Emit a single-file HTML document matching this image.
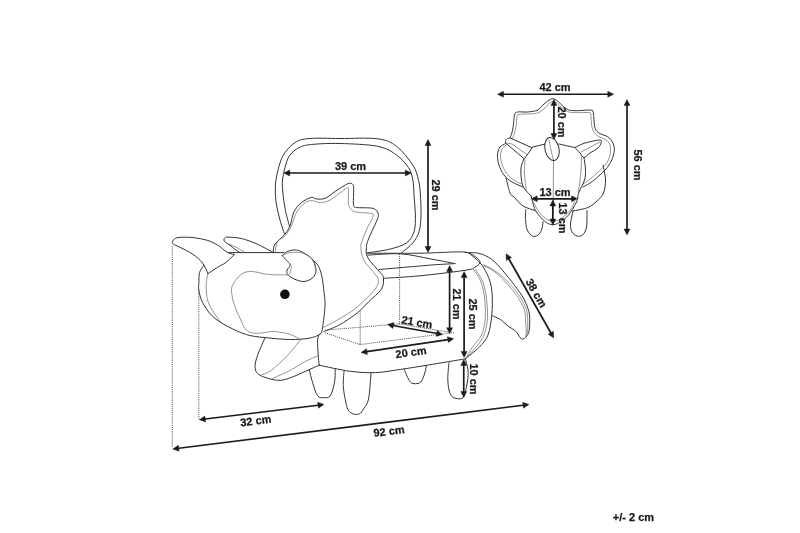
<!DOCTYPE html>
<html><head><meta charset="utf-8">
<style>
html,body{margin:0;padding:0;background:#fff;width:800px;height:533px;overflow:hidden}
svg{display:block;will-change:transform}
.t{font-family:"Liberation Sans",sans-serif;font-weight:bold;font-size:11px;fill:#1a1a1a;stroke:#1a1a1a;stroke-width:0.25}
.d{stroke:#1a1a1a;stroke-width:1.7;fill:none}
.ah{fill:#1a1a1a;stroke:#1a1a1a;stroke-width:0.4;stroke-linejoin:miter}
.o{stroke:#333;stroke-width:1.0;fill:none;stroke-linejoin:round;stroke-linecap:round}
.l{stroke:#777;stroke-width:0.8;fill:none;stroke-linejoin:round;stroke-linecap:round}
.dot{stroke:#444;stroke-width:0.9;fill:none;stroke-dasharray:1.1 1}
</style></head><body>
<svg width="800" height="533" viewBox="0 0 800 533">
<defs>
<marker id="ah" viewBox="0 0 10 10" refX="9" refY="5" markerWidth="4" markerHeight="4" orient="auto-start-reverse" markerUnits="strokeWidth">
<path d="M0,0 L10,5 L0,10 L2.5,5 z" fill="#1a1a1a"/>
</marker>
</defs>
<g id="drawing">
<path class="o" d="M284.5,234.0 C283.8,231.7 281.3,224.8 280.0,220.0 C278.7,215.2 277.3,210.0 276.5,205.0 C275.7,200.0 275.3,194.5 275.3,190.0 C275.3,185.5 275.5,182.5 276.3,178.0 C277.1,173.5 278.6,167.2 280.0,163.0 C281.4,158.8 282.5,156.0 285.0,152.6 C287.5,149.2 291.0,144.9 295.0,142.6 C299.0,140.2 301.5,139.2 309.0,138.5 C316.5,137.8 328.6,138.4 340.0,138.5 C351.4,138.6 368.3,137.5 377.7,138.8 C387.1,140.1 390.6,141.9 396.5,146.3 C402.4,150.7 409.2,159.5 412.9,165.2 C416.6,170.9 417.2,175.3 418.5,180.3 C419.8,185.3 420.0,189.2 420.4,195.0 C420.8,200.8 421.2,208.9 421.0,215.0 C420.8,221.1 420.5,226.9 419.1,231.5 C417.8,236.1 415.8,239.2 412.9,242.8 C410.0,246.4 403.5,251.1 401.6,252.8"/>
<path class="o" d="M289.5,226.4 C288.8,223.5 286.2,214.9 285.1,208.8 C284.0,202.7 283.0,195.1 282.6,190.0 C282.2,184.9 282.2,182.3 282.8,178.0 C283.4,173.7 284.8,167.8 286.0,164.0 C287.2,160.2 287.8,157.7 290.0,155.0 C292.2,152.3 295.4,149.3 299.0,147.6 C302.6,145.8 304.7,145.2 311.5,144.5 C318.3,143.8 329.0,143.2 340.0,143.5 C351.0,143.8 368.3,144.4 377.7,146.3 C387.1,148.2 391.4,151.4 396.5,155.0 C401.6,158.6 405.8,163.5 408.5,167.7 C411.2,171.9 412.0,175.4 412.9,180.3 C413.8,185.2 413.7,191.2 414.1,197.0 C414.5,202.8 415.4,209.2 415.4,215.0 C415.4,220.8 415.6,226.9 414.1,231.5 C412.6,236.1 410.6,239.9 406.6,242.8 C402.6,245.7 396.8,247.3 390.3,249.0 C383.8,250.7 371.4,252.2 367.6,252.8"/>
<path class="o" d="M273.2,252.2 C273.5,250.8 273.1,247.0 275.1,244.0 C277.1,241.0 282.6,237.1 285.1,234.0 C287.6,230.9 288.7,228.9 290.2,225.2 C291.7,221.5 292.0,215.8 293.9,212.0 C295.8,208.2 298.6,205.0 301.5,202.6 C304.4,200.2 308.8,198.0 311.3,197.4 C313.8,196.8 314.0,198.8 316.3,198.9 C318.6,199.1 322.0,199.6 325.1,198.3 C328.2,197.1 331.9,193.6 335.2,191.4 C338.5,189.2 342.7,186.5 345.2,185.1 C347.7,183.7 348.9,183.1 350.3,183.2 C351.7,183.3 352.8,183.7 353.4,185.7 C353.9,187.7 353.6,191.7 353.6,195.0 C353.6,198.3 353.0,203.2 353.5,205.2 C354.0,207.3 353.4,207.0 356.5,207.5 C359.6,208.0 368.8,207.5 372.2,208.2 C375.8,209.0 376.5,210.6 377.5,212.0 C378.5,213.4 378.5,214.8 378.2,216.5 C378.0,218.2 377.6,218.8 376.0,222.5 C374.4,226.2 370.1,234.8 368.5,239.0 C366.9,243.2 366.5,244.5 366.4,247.6 C366.3,250.7 365.4,253.4 367.7,257.6 C370.0,261.8 377.7,269.4 380.3,272.7 C382.9,276.0 383.2,275.0 383.4,277.7 C383.6,280.4 384.0,284.9 381.5,289.0 C379.0,293.1 372.3,298.1 368.3,302.0 C364.3,305.9 362.6,308.7 357.7,312.6 C352.8,316.5 344.4,322.1 338.8,325.2 C333.2,328.3 326.3,330.4 323.8,331.5"/>
<path class="l" d="M275.1,252.2 C275.5,250.4 275.8,244.3 277.6,241.5 C279.4,238.7 283.4,238.0 285.8,235.2 C288.2,232.4 290.2,228.3 292.0,224.5 C293.8,220.7 294.2,216.2 296.4,212.6 C298.6,208.9 302.5,204.6 305.2,202.6 C307.9,200.6 310.3,200.7 312.8,200.7 C315.3,200.7 317.4,202.8 320.3,202.6 C323.2,202.4 326.0,202.2 330.4,199.8 C334.8,197.4 343.5,189.9 346.5,188.2 C349.5,186.5 348.1,187.5 348.4,189.5 C348.7,191.5 348.2,197.2 348.3,200.0 C348.4,202.8 348.0,204.1 349.0,206.0 C350.0,207.9 350.5,210.3 354.2,211.6 C358.0,212.8 368.4,212.8 371.5,213.5 C374.6,214.2 373.0,214.6 373.0,215.8 C373.0,216.9 372.5,218.1 371.5,220.2 C370.5,222.4 368.5,225.2 367.0,228.5 C365.5,231.8 363.5,236.8 362.5,240.0 C361.5,243.2 360.6,244.2 360.8,247.6 C361.0,250.9 361.7,255.9 363.9,260.1 C366.1,264.3 371.6,269.4 374.0,272.7 C376.4,276.0 378.2,277.5 378.4,280.2 C378.6,282.9 377.8,285.4 375.2,289.0 C372.6,292.6 366.7,298.3 362.7,302.0 C358.7,305.7 356.4,307.9 351.4,311.4 C346.4,314.8 337.4,320.0 332.6,322.7 C327.8,325.4 324.2,326.9 322.5,327.7"/>
<path class="o" d="M229.0,252.6 L283.9,252.6"/>
<path class="o" d="M234.4,254.4 C233.6,254.2 231.4,254.1 229.7,253.4 C228.0,252.7 226.0,251.4 224.0,250.0 C222.0,248.6 220.3,246.6 217.5,245.0 C214.7,243.4 211.3,241.5 207.2,240.3 C203.1,239.1 197.8,238.1 193.1,237.6 C188.4,237.1 182.2,237.1 179.0,237.4 C175.8,237.7 175.1,238.7 174.0,239.5 C172.9,240.3 172.2,241.7 172.2,242.5 C172.2,243.3 172.9,243.9 174.0,244.6 C175.1,245.3 175.8,245.2 179.0,246.8 C182.2,248.4 189.2,251.7 193.1,254.4 C197.0,257.1 200.0,259.8 202.5,263.0 C205.0,266.2 207.2,271.8 208.1,273.6"/>
<path class="o" d="M208.1,273.6 C209.7,272.6 214.5,269.2 217.5,267.3 C220.5,265.4 223.1,264.6 225.9,262.5 C228.7,260.4 233.0,255.8 234.4,254.4"/>
<path class="o" d="M240.0,252.6 C239.1,252.0 236.2,250.2 234.5,249.0 C232.8,247.8 231.4,246.2 229.9,245.1 C228.4,244.0 226.5,243.2 225.5,242.3 C224.5,241.5 224.0,240.8 223.9,240.0 C223.8,239.2 224.3,238.3 225.0,237.8 C225.7,237.3 225.3,237.0 228.0,237.1 C230.7,237.2 236.8,237.5 241.2,238.5 C245.6,239.5 250.6,241.4 254.4,242.9 C258.2,244.4 260.9,245.9 264.0,247.5 C267.1,249.1 271.2,251.5 272.7,252.3"/>
<path class="l" d="M229.9,244.2 C231.1,244.8 234.7,246.5 237.0,247.8 C239.3,249.1 242.8,251.1 243.9,251.8"/>
<path class="o" d="M282.7,255.1 C283.5,254.3 285.4,252.2 287.7,251.3 C290.0,250.5 293.6,249.6 296.5,250.0 C299.4,250.4 302.6,252.1 305.3,253.8 C308.0,255.5 311.0,257.4 312.8,260.1 C314.6,262.8 316.0,267.3 316.0,270.2 C316.0,273.1 314.8,275.8 312.8,277.7 C310.8,279.6 307.1,281.3 304.0,281.5 C300.9,281.7 296.7,280.1 294.0,278.9 C291.3,277.7 288.8,275.9 287.7,274.5 C286.6,273.1 286.7,271.8 287.1,270.2 C287.5,268.6 290.1,266.6 290.2,265.1 C290.3,263.6 288.9,262.9 287.7,261.4 C286.4,259.9 283.5,257.4 282.7,256.3 C281.9,255.2 281.9,255.9 282.7,255.1 Z"/>
<path class="l" d="M283.9,255.1 C284.8,254.7 286.3,253.0 289.0,252.6 C291.7,252.2 297.0,252.0 300.3,252.6 C303.6,253.2 306.7,254.8 309.0,256.3 C311.3,257.8 313.1,259.3 314.1,261.4 C315.2,263.5 315.1,267.6 315.3,268.9"/>
<path class="l" d="M291.5,266.4 C291.3,267.4 290.8,271.2 290.2,272.7 C289.6,274.2 288.1,274.8 287.7,275.2"/>
<path class="o" d="M312.8,260.1 C313.6,260.9 316.3,262.6 317.8,265.1 C319.3,267.6 320.6,270.6 321.6,275.2 C322.7,279.8 323.5,287.6 324.1,292.8 C324.7,298.0 325.3,300.5 325.0,306.3 C324.7,312.1 323.3,323.1 322.5,327.7 C321.7,332.3 322.2,332.2 320.0,334.0 C317.8,335.8 314.1,337.3 309.1,338.2 C304.2,339.1 297.6,339.6 290.3,339.5 C283.0,339.4 272.4,338.4 265.1,337.6 C257.8,336.8 252.7,336.5 246.5,334.6 C240.3,332.7 233.3,329.4 227.7,326.4 C222.0,323.4 216.8,320.4 212.6,316.4 C208.4,312.4 204.9,307.0 202.6,302.6 C200.3,298.2 199.4,293.3 198.8,290.0 C198.2,286.7 198.8,285.7 198.9,282.8 C199.0,279.9 198.7,275.6 199.5,272.7 C200.3,269.8 203.2,266.4 203.9,265.2"/>
<path class="l" d="M207.7,273.3 C207.5,274.9 206.6,280.0 206.4,282.8 C206.2,285.6 205.9,286.5 206.3,290.0 C206.7,293.5 206.5,298.6 208.8,303.8 C211.1,309.0 217.0,317.6 220.2,321.4 C223.3,325.2 226.4,325.6 227.7,326.4"/>
<path class="l" d="M287.7,274.8 C284.6,274.8 274.8,275.1 268.8,274.5 C262.8,273.9 256.2,271.6 251.7,271.5 C247.2,271.4 244.5,272.1 241.6,274.0 C238.7,275.9 235.7,280.1 234.0,282.8 C232.3,285.5 231.5,286.5 231.5,290.0 C231.5,293.5 232.5,299.0 234.0,303.8 C235.5,308.6 238.2,314.5 240.3,318.9 C242.4,323.3 243.6,327.6 246.3,330.0 C249.0,332.4 252.4,333.1 256.6,333.3 C260.8,333.6 268.2,331.7 271.7,331.5 C275.2,331.3 274.6,331.4 277.7,331.9 C280.8,332.4 286.5,333.1 290.3,334.4 C294.1,335.7 298.6,338.6 300.3,339.5"/>
<path class="o" d="M265.1,337.6 C263.9,340.5 259.3,350.2 257.6,355.2 C255.9,360.2 254.7,364.3 255.1,367.7 C255.5,371.1 256.3,373.2 260.1,375.3 C263.9,377.4 272.7,379.9 277.7,380.3 C282.7,380.7 285.8,379.3 290.3,377.8 C294.9,376.3 300.2,373.6 305.0,371.5 C309.8,369.4 316.8,366.2 319.1,365.2"/>
<path class="o" d="M319.1,365.2 C318.9,362.7 318.1,354.6 317.9,350.0 C317.7,345.4 317.3,340.5 317.9,337.6 C318.5,334.7 321.1,333.4 321.7,332.6"/>
<path class="l" d="M300.3,340.1 C298.2,342.6 292.5,350.2 287.7,355.2 C282.9,360.2 276.0,366.9 271.4,370.3 C266.8,373.7 262.0,374.5 260.1,375.3"/>
<path class="l" d="M317.9,355.8 C315.8,356.8 309.9,359.1 305.3,361.5 C300.7,363.9 295.7,367.5 290.3,370.3 C284.9,373.1 275.6,377.0 272.7,378.4"/>
<path class="o" d="M367.0,253.2 C375.8,253.2 404.9,253.4 420.0,253.2 C435.1,253.0 449.6,251.9 457.7,251.9 C465.8,251.9 465.6,252.0 468.8,253.0 C472.1,254.0 475.3,256.5 477.2,258.1 C479.1,259.7 480.5,261.2 480.0,262.8 C479.5,264.4 476.9,266.2 474.4,267.5 C471.9,268.8 474.1,268.9 465.0,270.3 C455.9,271.7 433.5,274.5 420.0,275.8 C406.5,277.1 390.0,277.9 384.0,278.3"/>
<path class="o" d="M367.7,255.1 C373.1,254.9 389.9,253.2 400.4,253.8 C410.9,254.4 421.4,257.3 430.5,258.9 C439.6,260.5 450.9,262.8 455.0,263.6"/>
<path class="o" d="M379.0,269.5 C387.6,268.8 417.8,266.1 430.5,265.1 C443.2,264.1 450.9,263.9 455.0,263.6"/>
<path class="o" d="M468.8,253.0 C470.7,254.6 477.0,259.4 480.0,262.8 C483.0,266.2 484.9,269.8 486.6,273.1 C488.3,276.4 489.4,278.9 490.3,282.5 C491.2,286.1 491.9,289.6 492.2,295.0 C492.4,300.4 492.5,308.1 491.8,314.8 C491.1,321.5 490.1,329.6 488.0,335.0 C485.9,340.4 483.2,343.0 479.4,347.0 C475.6,351.0 467.7,356.8 465.4,358.8"/>
<path class="l" d="M473.4,269.4 C474.5,271.1 478.2,275.4 480.0,279.7 C481.8,284.0 483.3,288.7 484.2,295.0 C485.1,301.3 485.8,311.0 485.3,317.7 C484.9,324.4 483.6,330.1 481.5,335.0 C479.4,339.9 475.2,343.0 472.5,347.0 C469.8,351.0 466.6,356.8 465.4,358.8"/>
<path class="l" d="M475.3,269.4 C476.4,271.1 480.1,275.4 481.9,279.7 C483.7,284.0 485.1,288.7 486.0,295.0 C486.9,301.3 487.8,311.0 487.5,317.7 C487.2,324.4 485.9,330.1 484.0,335.0 C482.1,339.9 479.1,343.0 476.0,347.0 C472.9,351.0 467.2,356.8 465.4,358.8"/>
<path class="o" d="M465.0,252.5 C467.4,252.7 474.7,252.3 479.1,253.4 C483.5,254.5 487.4,256.3 491.3,259.1 C495.2,261.9 498.8,266.1 502.5,270.3 C506.2,274.5 511.0,280.8 513.8,284.4 C516.6,288.0 517.7,289.4 519.5,292.0 C521.3,294.6 523.0,296.9 524.5,300.0 C526.0,303.1 527.8,307.1 528.7,310.6 C529.6,314.1 529.7,317.6 529.7,321.0 C529.8,324.4 529.6,328.6 529.0,331.3 C528.4,334.0 527.0,335.7 526.0,337.0 C525.0,338.3 524.0,338.9 523.0,339.0 C522.0,339.1 521.2,338.8 520.0,337.5 C518.8,336.2 517.8,333.2 515.8,331.3 C513.8,329.4 510.2,327.7 508.0,326.0 C505.8,324.3 503.8,322.2 502.4,321.0 C500.9,319.8 500.9,319.8 499.3,318.9 C497.7,318.0 493.7,316.3 492.6,315.8"/>
<path class="l" d="M482.8,264.7 C483.9,265.2 486.4,265.8 489.4,267.5 C492.4,269.2 496.9,271.9 500.6,275.0 C504.4,278.1 509.2,283.5 511.9,286.3 C514.5,289.1 514.8,289.7 516.5,292.0 C518.2,294.3 520.3,296.9 522.0,300.0 C523.7,303.1 525.6,307.1 526.6,310.6 C527.6,314.1 527.6,317.6 527.7,321.0 C527.9,324.4 527.8,328.8 527.5,331.3 C527.2,333.8 526.2,335.2 526.0,336.0"/>
<path class="l" d="M483.8,266.1 C484.9,266.6 487.7,267.2 490.3,268.9 C492.9,270.5 496.4,272.9 499.7,276.0 C503.0,279.1 507.6,284.5 510.0,287.2 C512.4,289.9 512.4,289.9 514.0,292.0 C515.6,294.1 517.7,296.9 519.5,300.0 C521.3,303.1 523.6,307.1 524.6,310.6 C525.6,314.1 525.3,317.6 525.6,321.0 C525.9,324.4 526.1,328.8 526.2,331.3 C526.3,333.8 526.0,335.2 526.0,336.0"/>
<path class="o" d="M319.1,365.2 C324.3,366.2 340.9,370.1 350.3,371.3 C359.7,372.5 367.0,372.9 375.4,372.6 C383.8,372.3 391.8,370.6 400.5,369.4 C409.2,368.1 416.9,366.9 427.7,365.1 C438.5,363.3 459.1,359.9 465.4,358.8"/>
<path class="o" d="M309.4,370.1 C309.9,372.2 311.2,378.3 312.6,382.6 C314.0,386.9 315.7,393.3 317.6,395.8 C319.5,398.3 321.8,397.7 323.9,397.7 C326.0,397.7 328.4,398.3 330.2,395.8 C332.0,393.3 333.7,387.0 334.5,382.6 C335.3,378.2 335.1,371.6 335.2,369.4"/>
<path class="o" d="M344.0,371.3 C343.9,373.8 343.0,381.1 343.3,386.4 C343.6,391.7 345.1,399.0 346.0,403.0 C346.9,407.0 347.2,408.7 348.5,410.5 C349.8,412.3 351.7,413.4 353.5,414.0 C355.3,414.6 357.8,414.6 359.5,413.8 C361.2,413.0 362.0,411.5 363.5,409.0 C365.0,406.5 367.2,405.0 368.5,399.0 C369.8,393.0 370.6,377.5 371.0,373.2"/>
<path class="o" d="M404.4,369.5 C404.8,370.6 406.1,374.0 407.0,376.0 C407.9,378.0 409.0,380.2 410.0,381.5 C411.0,382.8 411.7,383.2 413.0,383.5 C414.3,383.8 416.6,383.9 418.0,383.5 C419.4,383.1 420.4,382.6 421.5,381.0 C422.6,379.4 423.7,376.5 424.5,374.0 C425.3,371.5 426.1,367.2 426.4,365.8"/>
<path class="o" d="M449.0,362.6 C448.8,365.1 447.8,373.1 447.8,377.7 C447.8,382.3 448.3,386.9 449.0,390.0 C449.7,393.1 450.8,395.1 452.0,396.5 C453.2,397.9 454.3,398.1 456.0,398.4 C457.7,398.7 460.5,399.3 462.0,398.4 C463.5,397.5 464.1,395.9 465.0,393.0 C465.9,390.1 467.0,384.8 467.5,381.0 C468.0,377.2 468.4,373.7 468.0,370.0 C467.6,366.3 465.8,360.7 465.4,358.8"/>
<path class="dot" d="M172.3,246.3 L172.3,447.5"/>
<path class="dot" d="M198.8,290.0 L198.8,419.0"/>
<path class="dot" d="M325.0,330.2 L399.1,323.9"/>
<path class="dot" d="M399.1,323.9 L455.0,333.2"/>
<path class="dot" d="M325.0,332.7 L360.2,344.6"/>
<path class="dot" d="M360.2,344.6 L450.0,333.0"/>
<path class="dot" d="M360.2,311.4 L360.2,344.6"/>
<path class="dot" d="M399.6,253.8 L399.6,323.9"/>
<path class="o" d="M523.0,187.0 C521.2,186.2 515.2,184.0 512.0,182.0 C508.8,180.0 506.2,177.8 504.0,175.0 C501.8,172.2 500.1,168.3 499.0,165.0 C497.9,161.7 497.3,158.0 497.5,155.0 C497.7,152.0 498.6,149.0 500.0,147.0 C501.4,145.0 504.2,144.8 506.0,143.0 C507.8,141.2 509.5,139.3 510.7,136.5 C511.9,133.7 512.6,130.0 513.2,126.4 C513.8,122.8 513.8,117.5 514.5,115.1 C515.2,112.7 515.4,112.5 517.6,112.0 C519.8,111.5 524.4,112.3 527.7,112.0 C531.1,111.7 535.2,111.2 537.7,110.1 C540.2,108.9 540.2,107.0 542.8,105.1 C545.4,103.2 549.5,98.2 553.4,98.8 C557.3,99.4 562.7,106.8 566.3,108.8 C569.9,110.8 571.1,110.5 575.1,110.7 C579.1,110.9 587.2,109.8 590.2,110.1 C593.2,110.4 592.6,109.9 593.3,112.6 C594.0,115.3 593.8,123.1 594.6,126.4 C595.5,129.8 596.0,130.8 598.4,132.7 C600.8,134.6 606.4,135.5 609.0,137.7 C611.6,139.9 613.2,143.1 614.0,146.0 C614.8,148.9 614.3,151.8 613.5,155.0 C612.7,158.2 611.2,161.7 609.0,165.0 C606.8,168.3 603.2,172.0 600.0,175.0 C596.8,178.0 592.8,181.0 590.0,183.0 C587.2,185.0 584.2,186.3 583.0,187.0"/>
<path class="l" d="M522.0,184.0 C521.2,183.7 519.2,183.3 517.0,182.0 C514.8,180.7 511.3,178.5 509.0,176.0 C506.7,173.5 504.4,170.2 503.0,167.0 C501.6,163.8 500.7,160.0 500.5,157.0 C500.3,154.0 501.1,151.0 502.0,149.0 C502.9,147.0 504.2,146.9 506.0,145.0 C507.8,143.1 511.0,140.6 512.6,137.7 C514.2,134.8 515.1,131.2 515.8,127.7 C516.5,124.2 516.5,119.2 517.0,117.0 C517.5,114.8 515.6,115.1 518.9,114.5 C522.1,113.9 532.3,114.2 536.5,113.2 C540.7,112.2 541.2,110.8 544.0,108.8 C546.8,106.8 549.8,101.0 553.4,101.3 C557.0,101.6 561.8,108.8 565.4,110.7 C569.0,112.6 571.2,112.3 575.1,112.6 C579.0,112.9 586.3,112.2 588.9,112.6 C591.5,113.0 590.3,112.6 590.8,115.1 C591.3,117.6 591.1,124.4 592.1,127.7 C593.1,131.1 594.2,133.1 596.5,135.2 C598.8,137.2 603.8,138.4 606.0,140.0 C608.2,141.6 609.3,142.5 610.0,145.0 C610.7,147.5 610.7,151.8 610.0,155.0 C609.3,158.2 608.2,161.0 606.0,164.0 C603.8,167.0 599.8,170.3 597.0,173.0 C594.2,175.7 591.3,178.2 589.0,180.0 C586.7,181.8 584.0,183.3 583.0,184.0"/>
<path class="o" d="M575.0,147.5 C576.7,146.8 580.8,144.2 585.0,143.0 C589.2,141.8 597.3,140.0 600.0,140.0 C602.7,140.0 601.3,141.7 601.0,143.0 C600.7,144.3 599.8,146.3 598.0,148.0 C596.2,149.7 592.3,151.4 590.0,153.0 C587.7,154.6 585.7,157.5 584.0,157.5 C582.3,157.5 581.5,154.7 580.0,153.0 C578.5,151.3 575.8,148.4 575.0,147.5"/>
<path class="l" d="M581.0,152.0 L600.0,142.0"/>
<path class="o" d="M531.0,147.5 L545.0,144.0"/>
<path class="o" d="M559.0,144.0 C560.8,144.4 567.3,145.9 570.0,146.5 C572.7,147.1 574.2,147.3 575.0,147.5"/>
<path class="l" d="M549.0,140.0 C549.3,141.7 550.2,146.6 551.0,150.0 C551.8,153.4 553.1,158.8 553.5,160.5"/>
<path class="l" d="M553.5,160.5 L553.0,225.0"/>
<path class="o" d="M524.0,158.5 C523.5,160.1 521.4,164.4 521.0,168.0 C520.6,171.6 521.0,176.7 521.5,180.0 C522.0,183.3 522.3,185.2 524.0,188.0 C525.7,190.8 530.2,195.1 531.5,196.5"/>
<path class="l" d="M525.0,160.0 C524.9,162.5 524.3,170.0 524.5,175.0 C524.7,180.0 526.1,187.7 526.4,190.2"/>
<path class="o" d="M584.0,157.5 C584.2,159.6 585.4,166.2 585.5,170.0 C585.6,173.8 585.6,176.3 584.5,180.0 C583.4,183.7 580.1,189.2 579.0,192.0 C577.9,194.8 577.9,196.2 577.7,197.0"/>
<path class="l" d="M581.5,157.0 C581.4,159.2 581.3,165.3 581.0,170.0 C580.7,174.7 580.0,181.3 579.5,185.0 C579.0,188.7 578.2,190.8 578.0,192.0"/>
<path class="o" d="M506.0,178.0 C506.7,180.5 508.7,189.8 510.0,193.0 C511.3,196.2 511.8,194.8 514.0,197.0 C516.2,199.2 519.5,203.8 523.0,206.0 C526.5,208.2 533.0,209.8 535.0,210.5"/>
<path class="o" d="M603.0,165.0 C603.4,167.5 605.4,175.3 605.5,180.0 C605.6,184.7 604.9,189.5 603.5,193.0 C602.1,196.5 599.6,198.6 597.0,201.0 C594.4,203.4 592.0,205.8 588.0,207.5 C584.0,209.2 575.5,210.4 573.0,211.0"/>
<path class="o" d="M531.0,195.5 C531.8,198.0 533.2,206.2 535.5,210.5 C537.8,214.8 541.8,218.6 544.5,221.0 C547.2,223.4 549.5,224.4 552.0,224.7 C554.5,224.9 556.8,224.1 559.5,222.5 C562.2,220.9 565.8,218.2 568.5,215.0 C571.2,211.8 574.4,206.0 576.0,203.0 C577.6,200.0 577.7,198.0 578.0,197.0"/>
<path class="l" d="M533.2,201.5 C534.3,203.5 537.1,210.2 540.0,213.5 C542.9,216.8 547.2,220.0 550.5,221.0 C553.8,222.0 556.2,221.2 559.5,219.5 C562.8,217.8 567.5,213.5 570.0,210.5 C572.5,207.5 573.8,203.0 574.5,201.5"/>
<path class="o" d="M525.8,209.7 C525.8,211.3 525.2,216.1 525.5,219.5 C525.8,222.9 526.1,227.2 527.3,230.0 C528.5,232.8 530.8,235.1 532.5,236.0 C534.2,236.9 536.3,236.2 537.8,235.2 C539.3,234.2 540.6,232.2 541.5,230.0 C542.4,227.8 542.8,223.2 543.0,221.8"/>
<path class="o" d="M573.0,211.0 C572.6,213.2 570.7,220.5 570.5,224.0 C570.3,227.5 570.9,230.0 572.0,232.0 C573.1,234.0 575.2,235.5 577.0,236.0 C578.8,236.5 580.9,236.5 582.5,235.0 C584.1,233.5 585.8,231.1 586.5,227.0 C587.2,222.9 586.9,213.2 587.0,210.5"/>
<path class="o" style="fill:#fff" d="M531.8,147.7 L510.8,138.2 C507.5,137.6 505.2,139.8 505.5,142 C505.7,143 506,143.5 506.5,143.8 L524,158.6 Z"/>
<path class="l" d="M507.5,143.1 C509,143.2 511,143.6 513,144.5 L526.6,154.3"/>
<ellipse class="o" cx="552" cy="149" rx="7" ry="11.7" transform="rotate(-13 552 149)"/>
<circle cx="284.9" cy="294.3" r="4.8" fill="#111"/>
</g>
<g id="dims"><line class="d" x1="176.72" y1="448.50" x2="525.03" y2="405.00"/><path class="ah" d="M172.75,449.00 L179.08,451.23 L178.33,445.28 Z"/><path class="ah" d="M529.00,404.50 L523.42,408.22 L522.67,402.27 Z"/>
<line class="d" x1="203.27" y1="419.26" x2="320.03" y2="404.99"/><path class="ah" d="M199.30,419.75 L205.62,422.00 L204.89,416.04 Z"/><path class="ah" d="M324.00,404.50 L318.41,408.21 L317.68,402.25 Z"/>
<line class="d" x1="287.75" y1="173.00" x2="407.25" y2="173.00"/><path class="ah" d="M283.75,173.00 L289.75,176.00 L289.75,170.00 Z"/><path class="ah" d="M411.25,173.00 L405.25,176.00 L405.25,170.00 Z"/>
<line class="d" x1="428.00" y1="143.50" x2="428.00" y2="248.50"/><path class="ah" d="M428.00,139.50 L425.00,145.50 L431.00,145.50 Z"/><path class="ah" d="M428.00,252.50 L425.00,246.50 L431.00,246.50 Z"/>
<line class="d" x1="449.60" y1="269.50" x2="449.60" y2="329.75"/><path class="ah" d="M449.60,265.50 L446.60,271.50 L452.60,271.50 Z"/><path class="ah" d="M449.60,333.75 L446.60,327.75 L452.60,327.75 Z"/>
<line class="d" x1="464.10" y1="275.40" x2="464.10" y2="353.50"/><path class="ah" d="M464.10,271.40 L461.10,277.40 L467.10,277.40 Z"/><path class="ah" d="M464.10,357.50 L461.10,351.50 L467.10,351.50 Z"/>
<line class="d" x1="391.44" y1="325.22" x2="438.56" y2="333.78"/><path class="ah" d="M387.50,324.50 L392.87,328.52 L393.94,322.62 Z"/><path class="ah" d="M442.50,334.50 L436.06,336.38 L437.13,330.48 Z"/>
<line class="d" x1="364.96" y1="351.91" x2="449.79" y2="339.34"/><path class="ah" d="M361.00,352.50 L367.38,354.59 L366.50,348.65 Z"/><path class="ah" d="M453.75,338.75 L448.25,342.60 L447.37,336.66 Z"/>
<line class="d" x1="463.75" y1="363.50" x2="463.75" y2="393.50"/><path class="ah" d="M463.75,359.50 L460.75,365.50 L466.75,365.50 Z"/><path class="ah" d="M463.75,397.50 L460.75,391.50 L466.75,391.50 Z"/>
<line class="d" x1="507.97" y1="257.23" x2="551.78" y2="334.52"/><path class="ah" d="M506.00,253.75 L506.35,260.45 L511.57,257.49 Z"/><path class="ah" d="M553.75,338.00 L548.18,334.26 L553.40,331.30 Z"/>
<line class="d" x1="501.50" y1="94.25" x2="609.75" y2="94.25"/><path class="ah" d="M497.50,94.25 L503.50,97.25 L503.50,91.25 Z"/><path class="ah" d="M613.75,94.25 L607.75,97.25 L607.75,91.25 Z"/>
<line class="d" x1="627.00" y1="103.50" x2="627.00" y2="231.00"/><path class="ah" d="M627.00,99.50 L624.00,105.50 L630.00,105.50 Z"/><path class="ah" d="M627.00,235.00 L624.00,229.00 L630.00,229.00 Z"/>
<line class="d" x1="553.90" y1="103.50" x2="553.90" y2="135.50"/><path class="ah" d="M553.90,99.50 L550.90,105.50 L556.90,105.50 Z"/><path class="ah" d="M553.90,139.50 L550.90,133.50 L556.90,133.50 Z"/>
<line class="d" x1="535.25" y1="198.80" x2="573.50" y2="198.80"/><path class="ah" d="M531.25,198.80 L537.25,201.80 L537.25,195.80 Z"/><path class="ah" d="M577.50,198.80 L571.50,201.80 L571.50,195.80 Z"/>
<line class="d" x1="552.80" y1="204.00" x2="552.80" y2="221.00"/><path class="ah" d="M552.80,200.00 L549.80,206.00 L555.80,206.00 Z"/><path class="ah" d="M552.80,225.00 L549.80,219.00 L555.80,219.00 Z"/></g>
<g id="texts">
<text class="t" x="255.8" y="424.6" text-anchor="middle" transform="rotate(-7 255.8 420.6)">32 cm</text>
<text class="t" x="389" y="435" text-anchor="middle" transform="rotate(-7 389 431)">92 cm</text>
<text class="t" x="350.5" y="170" text-anchor="middle">39 cm</text>
<text class="t" transform="translate(432.2,195) rotate(90)" text-anchor="middle">29 cm</text>
<text class="t" transform="translate(453.2,304) rotate(90)" text-anchor="middle">21 cm</text>
<text class="t" transform="translate(469.2,314) rotate(90)" text-anchor="middle">25 cm</text>
<text class="t" transform="translate(469.8,379) rotate(90)" text-anchor="middle">10 cm</text>
<text class="t" x="417" y="326" text-anchor="middle" transform="rotate(10 417 322)">21 cm</text>
<text class="t" x="411" y="356" text-anchor="middle" transform="rotate(-8 411 352)">20 cm</text>
<text class="t" transform="translate(533,295) rotate(60)" text-anchor="middle">38 cm</text>
<text class="t" x="555" y="91" text-anchor="middle">42 cm</text>
<text class="t" transform="translate(634.2,165) rotate(90)" text-anchor="middle">56 cm</text>
<text class="t" transform="translate(558.2,122) rotate(90)" text-anchor="middle">20 cm</text>
<text class="t" x="555" y="196" text-anchor="middle">13 cm</text>
<text class="t" transform="translate(559.2,218) rotate(90)" text-anchor="middle">13 cm</text>
<text class="t" x="633.5" y="521" text-anchor="middle">+/- 2 cm</text>
</g>
</svg>
</body></html>
